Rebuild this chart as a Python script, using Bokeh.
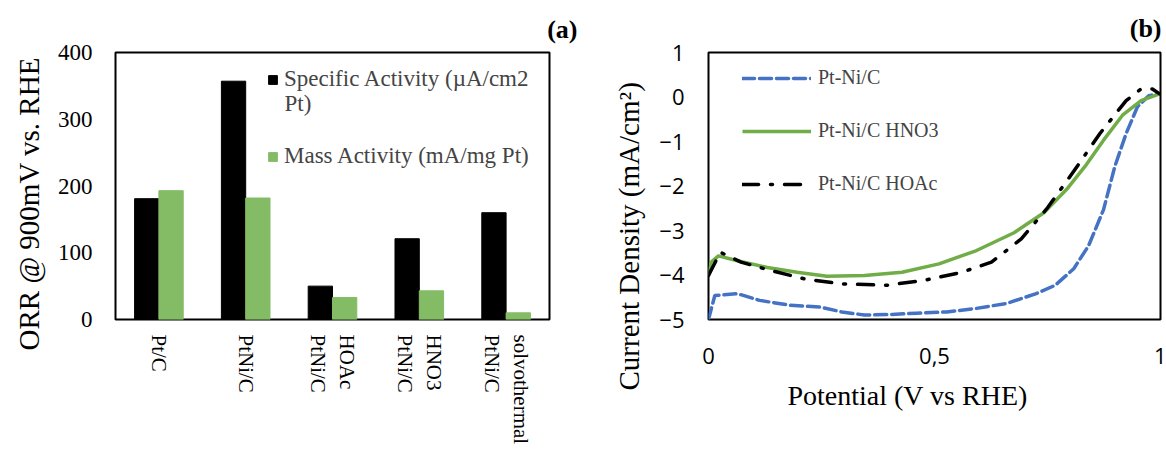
from bokeh.plotting import figure
from bokeh.layouts import row
from bokeh.models import ColumnDataSource, Legend, LegendItem, Label, FixedTicker, Title
from bokeh.transform import dodge
from bokeh.embed import file_html
from bokeh.resources import INLINE

# ---------------- data: panel (a) ----------------
categories = ["Pt/C", "PtNi/C", "PtNi/C\nHOAc", "PtNi/C\nHNO3", "PtNi/C\nsolvothermal"]
specific_activity = [181, 357, 50, 121, 160]
mass_activity = [193, 182, 33, 43, 10]
y_ticks_a = [0, 100, 200, 300, 400]

# ---------------- data: panel (b) ----------------
ptni_x = [0.0, 0.014, 0.064, 0.113, 0.18, 0.246, 0.295, 0.345, 0.395, 0.46, 0.527, 0.593,
          0.659, 0.725, 0.767, 0.808, 0.841, 0.874, 0.899, 0.924, 0.949, 0.974, 0.994]
ptni_y = [-5.0, -4.46, -4.42, -4.57, -4.68, -4.72, -4.83, -4.90, -4.89, -4.86, -4.83, -4.75,
          -4.64, -4.42, -4.23, -3.86, -3.34, -2.53, -1.56, -0.82, -0.22, 0.03, 0.07]

hno3_x = [0.0, 0.006, 0.022, 0.064, 0.13, 0.196, 0.262, 0.345, 0.428, 0.51, 0.593, 0.676,
          0.742, 0.792, 0.833, 0.874, 0.916, 0.957, 0.998]
hno3_y = [-4.01, -3.71, -3.57, -3.68, -3.83, -3.94, -4.03, -4.01, -3.94, -3.75, -3.45, -3.05,
          -2.60, -2.08, -1.56, -0.97, -0.41, -0.08, 0.07]

hoac_x = [0.0, 0.026, 0.072, 0.138, 0.213, 0.295, 0.395, 0.477, 0.56, 0.626, 0.692, 0.75,
          0.808, 0.866, 0.924, 0.957, 0.982, 0.998]
hoac_y = [-4.01, -3.49, -3.71, -3.90, -4.09, -4.20, -4.23, -4.12, -3.94, -3.71, -3.19, -2.49,
          -1.67, -0.82, -0.08, 0.18, 0.18, 0.07]

x_ticks_b = [0, 0.5, 1]
x_tick_labels_b = {0: "0", 0.5: "0,5", 1: "1"}
y_ticks_b = [-5, -4, -3, -2, -1, 0, 1]

SERIF = "Liberation Serif"
SANS = "Open Sans"
GREEN_BAR = "#84bc66"

# vertical tick labels stack their lines right-to-left, so the line order is flipped
factors = ["\n".join(reversed(c.split("\n"))) for c in categories]


def style_axes(p, label_font):
    for ax in (p.xaxis[0], p.yaxis[0]):
        ax.axis_line_color = None
        ax.major_tick_line_color = None
        ax.minor_tick_line_color = None
        ax.major_tick_out = 0
        ax.major_tick_in = 0
        ax.minor_tick_out = 0
        ax.major_label_text_font = label_font
        ax.major_label_text_color = "black"
    p.xgrid.visible = False
    p.ygrid.visible = False
    p.outline_line_color = "black"
    p.outline_line_width = 2
    p.outline_line_alpha = 1


def panel_title(p, text, offset, standoff):
    p.title.text = text
    p.title.align = "right"
    p.title.offset = offset
    p.title.text_font = SERIF
    p.title.text_font_size = "26px"
    p.title.text_font_style = "bold"
    p.title.text_color = "black"
    p.title.standoff = standoff


def side_title(p, text, place, size, offset, standoff):
    t = Title(text=text, align="left", offset=offset, text_font=SERIF,
              text_font_size=size, text_font_style="normal", text_color="black",
              standoff=standoff)
    p.add_layout(t, place)


# ---------------- panel (a) ----------------
src = ColumnDataSource(dict(cat=factors, sa=specific_activity, ma=mass_activity))
pa = figure(x_range=factors, y_range=(0, 400), width=596, height=450,
            output_backend="svg", toolbar_location=None,
            min_border_left=114, min_border_right=47, min_border_top=49, min_border_bottom=131)
r_sa = pa.vbar(x=dodge("cat", -0.14, range=pa.x_range), top="sa", width=0.28, source=src,
               fill_color="black", line_color="black")
r_ma = pa.vbar(x=dodge("cat", 0.14, range=pa.x_range), top="ma", width=0.28, source=src,
               fill_color=GREEN_BAR, line_color=GREEN_BAR)
style_axes(pa, SERIF)
pa.x_range.range_padding = 0
pa.x_range.factor_padding = 0
pa.yaxis.ticker = FixedTicker(ticks=y_ticks_a)
pa.yaxis.major_label_text_font_size = "23px"
pa.yaxis.major_label_standoff = 23
pa.xaxis.major_label_text_font_size = "21px"
pa.xaxis.major_label_orientation = "vertical"
pa.xaxis.major_label_standoff = 15
side_title(pa, "ORR @ 900mV vs. RHE", "left", "29px", -31, 20)
panel_title(pa, "(a)", -28, 18)

leg_a = Legend(items=[LegendItem(label="Specific Activity (µA/cm2", renderers=[r_sa]),
                      LegendItem(label="Mass Activity (mA/mg Pt)", renderers=[r_ma])],
               location=(152, 150), padding=0, margin=0, spacing=51,
               glyph_width=11, glyph_height=11, label_standoff=6,
               label_text_font=SERIF, label_text_font_size="23px",
               background_fill_alpha=0, border_line_color=None)
pa.add_layout(leg_a)
pa.add_layout(Label(x=169, y=216, x_units="screen", y_units="screen", text="Pt)",
                    text_font=SERIF, text_font_size="23px", text_baseline="middle"))

# ---------------- panel (b) ----------------
pb = figure(x_range=(0, 1), y_range=(-5, 1), width=570, height=450,
            output_backend="svg", toolbar_location=None,
            min_border_left=112, min_border_right=6, min_border_top=52, min_border_bottom=129)
l1 = pb.line(ptni_x, ptni_y, line_color="#4472c4", line_width=3.5, line_dash="12 5",
             line_cap="round")
l2 = pb.line(hno3_x, hno3_y, line_color="#70ad47", line_width=3.5)
l3 = pb.line(hoac_x, hoac_y, line_color="black", line_width=3.5, line_dash="16 12 2 12",
             line_cap="round")
style_axes(pb, SANS)
pb.xaxis.ticker = FixedTicker(ticks=x_ticks_b)
pb.xaxis.major_label_overrides = x_tick_labels_b
pb.yaxis.ticker = FixedTicker(ticks=y_ticks_b)
for ax in (pb.xaxis[0], pb.yaxis[0]):
    ax.major_label_text_font_size = "22px"
pb.yaxis.major_label_standoff = 24
pb.xaxis.major_label_standoff = 28
side_title(pb, "Current Density (mA/cm²)", "left", "29px", -71, 24)
side_title(pb, "Potential (V vs RHE)", "below", "28px", 79, 22)
panel_title(pb, "(b)", -1, 20)

leg_b = Legend(items=[LegendItem(label="Pt-Ni/C", renderers=[l1]),
                      LegendItem(label="Pt-Ni/C HNO3", renderers=[l2]),
                      LegendItem(label="Pt-Ni/C HOAc", renderers=[l3])],
               location=(34, 124), padding=0, margin=0, spacing=30,
               glyph_width=69, glyph_height=20, label_standoff=7,
               label_text_font=SERIF, label_text_font_size="20px",
               background_fill_alpha=0, border_line_color=None)
pb.add_layout(leg_b)

layout = row(pa, pb)
open("out.html", "w").write(file_html(layout, INLINE))
